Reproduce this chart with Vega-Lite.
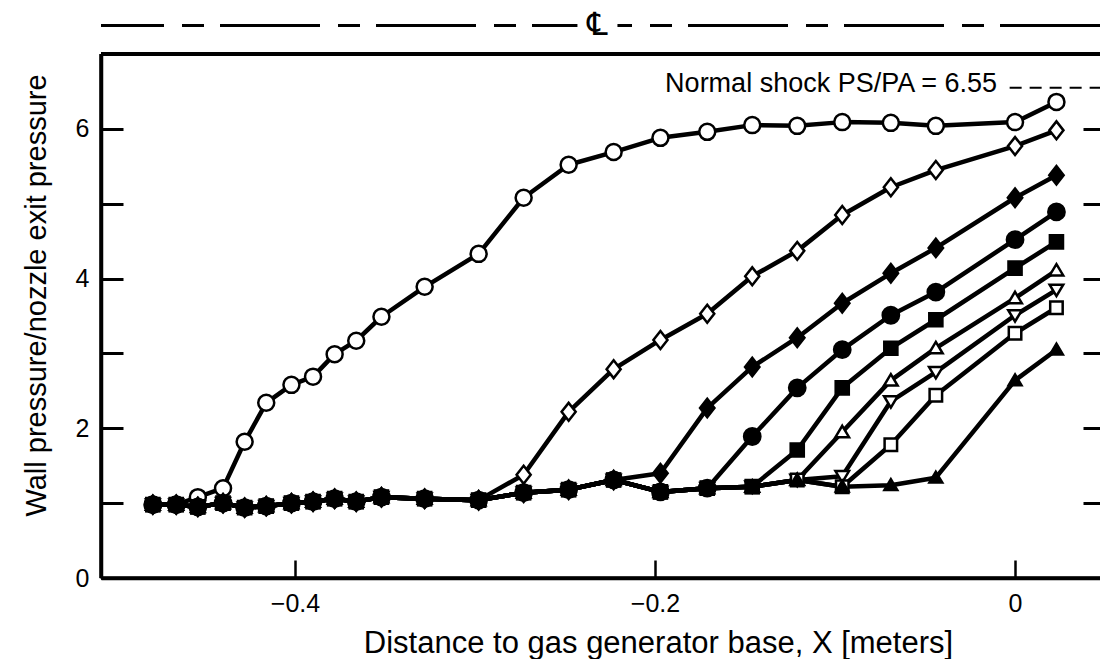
{
  "$schema": "https://vega.github.io/schema/vega-lite/v6.json",
  "width": 999,
  "height": 524,
  "autosize": {"type": "none"},
  "padding": {"left": 101, "top": 54, "right": 0, "bottom": 81},
  "background": "white",
  "config": {
    "view": {"stroke": null},
    "font": "Liberation Sans",
    "axis": {"labelFont": "Liberation Sans", "titleFont": "Liberation Sans", "labelColor": "black", "titleColor": "black", "tickColor": "black", "domainColor": "black", "titleFontWeight": "normal", "grid": false}
  },
  "datasets": {
    "obs": [
      {"s":"Run 1","x":-0.479,"y":0.98},{"s":"Run 1","x":-0.466,"y":0.98},{"s":"Run 1","x":-0.454,"y":1.08},{"s":"Run 1","x":-0.440,"y":1.20},{"s":"Run 1","x":-0.428,"y":1.82},{"s":"Run 1","x":-0.416,"y":2.34},{"s":"Run 1","x":-0.402,"y":2.58},{"s":"Run 1","x":-0.390,"y":2.69},{"s":"Run 1","x":-0.378,"y":2.99},{"s":"Run 1","x":-0.366,"y":3.17},{"s":"Run 1","x":-0.352,"y":3.49},{"s":"Run 1","x":-0.328,"y":3.89},{"s":"Run 1","x":-0.298,"y":4.33},{"s":"Run 1","x":-0.273,"y":5.08},{"s":"Run 1","x":-0.248,"y":5.52},{"s":"Run 1","x":-0.223,"y":5.69},{"s":"Run 1","x":-0.197,"y":5.88},{"s":"Run 1","x":-0.171,"y":5.96},{"s":"Run 1","x":-0.146,"y":6.05},{"s":"Run 1","x":-0.121,"y":6.04},{"s":"Run 1","x":-0.096,"y":6.09},{"s":"Run 1","x":-0.069,"y":6.08},{"s":"Run 1","x":-0.044,"y":6.04},{"s":"Run 1","x":0.0,"y":6.09},{"s":"Run 1","x":0.023,"y":6.36},

      {"s":"Run 2","x":-0.479,"y":0.98},{"s":"Run 2","x":-0.466,"y":0.98},{"s":"Run 2","x":-0.454,"y":0.95},{"s":"Run 2","x":-0.440,"y":1.00},{"s":"Run 2","x":-0.428,"y":0.94},{"s":"Run 2","x":-0.416,"y":0.96},{"s":"Run 2","x":-0.402,"y":1.00},{"s":"Run 2","x":-0.390,"y":1.02},{"s":"Run 2","x":-0.378,"y":1.06},{"s":"Run 2","x":-0.366,"y":1.02},{"s":"Run 2","x":-0.352,"y":1.08},{"s":"Run 2","x":-0.328,"y":1.06},{"s":"Run 2","x":-0.298,"y":1.04},{"s":"Run 2","x":-0.273,"y":1.38},{"s":"Run 2","x":-0.248,"y":2.22},{"s":"Run 2","x":-0.223,"y":2.79},{"s":"Run 2","x":-0.197,"y":3.18},{"s":"Run 2","x":-0.171,"y":3.53},{"s":"Run 2","x":-0.146,"y":4.03},{"s":"Run 2","x":-0.121,"y":4.37},{"s":"Run 2","x":-0.096,"y":4.85},{"s":"Run 2","x":-0.069,"y":5.22},{"s":"Run 2","x":-0.044,"y":5.45},{"s":"Run 2","x":0.0,"y":5.77},{"s":"Run 2","x":0.023,"y":5.98},

      {"s":"Run 6","x":-0.479,"y":0.98},{"s":"Run 6","x":-0.466,"y":0.98},{"s":"Run 6","x":-0.454,"y":0.95},{"s":"Run 6","x":-0.440,"y":1.00},{"s":"Run 6","x":-0.428,"y":0.94},{"s":"Run 6","x":-0.416,"y":0.96},{"s":"Run 6","x":-0.402,"y":1.00},{"s":"Run 6","x":-0.390,"y":1.02},{"s":"Run 6","x":-0.378,"y":1.06},{"s":"Run 6","x":-0.366,"y":1.02},{"s":"Run 6","x":-0.352,"y":1.08},{"s":"Run 6","x":-0.328,"y":1.06},{"s":"Run 6","x":-0.298,"y":1.04},{"s":"Run 6","x":-0.273,"y":1.14},{"s":"Run 6","x":-0.248,"y":1.18},{"s":"Run 6","x":-0.223,"y":1.31},{"s":"Run 6","x":-0.197,"y":1.15},{"s":"Run 6","x":-0.171,"y":1.20},{"s":"Run 6","x":-0.146,"y":1.22},{"s":"Run 6","x":-0.121,"y":1.31},{"s":"Run 6","x":-0.096,"y":1.95},{"s":"Run 6","x":-0.069,"y":2.64},{"s":"Run 6","x":-0.044,"y":3.07},{"s":"Run 6","x":0.0,"y":3.74},{"s":"Run 6","x":0.023,"y":4.11},

      {"s":"Run 7","x":-0.479,"y":0.98},{"s":"Run 7","x":-0.466,"y":0.98},{"s":"Run 7","x":-0.454,"y":0.95},{"s":"Run 7","x":-0.440,"y":1.00},{"s":"Run 7","x":-0.428,"y":0.94},{"s":"Run 7","x":-0.416,"y":0.96},{"s":"Run 7","x":-0.402,"y":1.00},{"s":"Run 7","x":-0.390,"y":1.02},{"s":"Run 7","x":-0.378,"y":1.06},{"s":"Run 7","x":-0.366,"y":1.02},{"s":"Run 7","x":-0.352,"y":1.08},{"s":"Run 7","x":-0.328,"y":1.06},{"s":"Run 7","x":-0.298,"y":1.04},{"s":"Run 7","x":-0.273,"y":1.14},{"s":"Run 7","x":-0.248,"y":1.18},{"s":"Run 7","x":-0.223,"y":1.31},{"s":"Run 7","x":-0.197,"y":1.15},{"s":"Run 7","x":-0.171,"y":1.20},{"s":"Run 7","x":-0.146,"y":1.22},{"s":"Run 7","x":-0.121,"y":1.31},{"s":"Run 7","x":-0.096,"y":1.36},{"s":"Run 7","x":-0.069,"y":2.36},{"s":"Run 7","x":-0.044,"y":2.75},{"s":"Run 7","x":0.0,"y":3.51},{"s":"Run 7","x":0.023,"y":3.85},

      {"s":"Run 8","x":-0.479,"y":0.98},{"s":"Run 8","x":-0.466,"y":0.98},{"s":"Run 8","x":-0.454,"y":0.95},{"s":"Run 8","x":-0.440,"y":1.00},{"s":"Run 8","x":-0.428,"y":0.94},{"s":"Run 8","x":-0.416,"y":0.96},{"s":"Run 8","x":-0.402,"y":1.00},{"s":"Run 8","x":-0.390,"y":1.02},{"s":"Run 8","x":-0.378,"y":1.06},{"s":"Run 8","x":-0.366,"y":1.02},{"s":"Run 8","x":-0.352,"y":1.08},{"s":"Run 8","x":-0.328,"y":1.06},{"s":"Run 8","x":-0.298,"y":1.04},{"s":"Run 8","x":-0.273,"y":1.14},{"s":"Run 8","x":-0.248,"y":1.18},{"s":"Run 8","x":-0.223,"y":1.31},{"s":"Run 8","x":-0.197,"y":1.15},{"s":"Run 8","x":-0.171,"y":1.20},{"s":"Run 8","x":-0.146,"y":1.22},{"s":"Run 8","x":-0.121,"y":1.31},{"s":"Run 8","x":-0.096,"y":1.22},{"s":"Run 8","x":-0.069,"y":1.78},{"s":"Run 8","x":-0.044,"y":2.44},{"s":"Run 8","x":0.0,"y":3.27},{"s":"Run 8","x":0.023,"y":3.61},

      {"s":"Run 3","x":-0.479,"y":0.98},{"s":"Run 3","x":-0.466,"y":0.98},{"s":"Run 3","x":-0.454,"y":0.95},{"s":"Run 3","x":-0.440,"y":1.00},{"s":"Run 3","x":-0.428,"y":0.94},{"s":"Run 3","x":-0.416,"y":0.96},{"s":"Run 3","x":-0.402,"y":1.00},{"s":"Run 3","x":-0.390,"y":1.02},{"s":"Run 3","x":-0.378,"y":1.06},{"s":"Run 3","x":-0.366,"y":1.02},{"s":"Run 3","x":-0.352,"y":1.08},{"s":"Run 3","x":-0.328,"y":1.06},{"s":"Run 3","x":-0.298,"y":1.04},{"s":"Run 3","x":-0.273,"y":1.14},{"s":"Run 3","x":-0.248,"y":1.18},{"s":"Run 3","x":-0.223,"y":1.31},{"s":"Run 3","x":-0.197,"y":1.40},{"s":"Run 3","x":-0.171,"y":2.27},{"s":"Run 3","x":-0.146,"y":2.82},{"s":"Run 3","x":-0.121,"y":3.21},{"s":"Run 3","x":-0.096,"y":3.67},{"s":"Run 3","x":-0.069,"y":4.07},{"s":"Run 3","x":-0.044,"y":4.41},{"s":"Run 3","x":0.0,"y":5.08},{"s":"Run 3","x":0.023,"y":5.38},

      {"s":"Run 4","x":-0.479,"y":0.98},{"s":"Run 4","x":-0.466,"y":0.98},{"s":"Run 4","x":-0.454,"y":0.95},{"s":"Run 4","x":-0.440,"y":1.00},{"s":"Run 4","x":-0.428,"y":0.94},{"s":"Run 4","x":-0.416,"y":0.96},{"s":"Run 4","x":-0.402,"y":1.00},{"s":"Run 4","x":-0.390,"y":1.02},{"s":"Run 4","x":-0.378,"y":1.06},{"s":"Run 4","x":-0.366,"y":1.02},{"s":"Run 4","x":-0.352,"y":1.08},{"s":"Run 4","x":-0.328,"y":1.06},{"s":"Run 4","x":-0.298,"y":1.04},{"s":"Run 4","x":-0.273,"y":1.14},{"s":"Run 4","x":-0.248,"y":1.18},{"s":"Run 4","x":-0.223,"y":1.31},{"s":"Run 4","x":-0.197,"y":1.15},{"s":"Run 4","x":-0.171,"y":1.20},{"s":"Run 4","x":-0.146,"y":1.89},{"s":"Run 4","x":-0.121,"y":2.54},{"s":"Run 4","x":-0.096,"y":3.05},{"s":"Run 4","x":-0.069,"y":3.51},{"s":"Run 4","x":-0.044,"y":3.82},{"s":"Run 4","x":0.0,"y":4.52},{"s":"Run 4","x":0.023,"y":4.89},

      {"s":"Run 5","x":-0.479,"y":0.98},{"s":"Run 5","x":-0.466,"y":0.98},{"s":"Run 5","x":-0.454,"y":0.95},{"s":"Run 5","x":-0.440,"y":1.00},{"s":"Run 5","x":-0.428,"y":0.94},{"s":"Run 5","x":-0.416,"y":0.96},{"s":"Run 5","x":-0.402,"y":1.00},{"s":"Run 5","x":-0.390,"y":1.02},{"s":"Run 5","x":-0.378,"y":1.06},{"s":"Run 5","x":-0.366,"y":1.02},{"s":"Run 5","x":-0.352,"y":1.08},{"s":"Run 5","x":-0.328,"y":1.06},{"s":"Run 5","x":-0.298,"y":1.04},{"s":"Run 5","x":-0.273,"y":1.14},{"s":"Run 5","x":-0.248,"y":1.18},{"s":"Run 5","x":-0.223,"y":1.31},{"s":"Run 5","x":-0.197,"y":1.15},{"s":"Run 5","x":-0.171,"y":1.20},{"s":"Run 5","x":-0.146,"y":1.22},{"s":"Run 5","x":-0.121,"y":1.71},{"s":"Run 5","x":-0.096,"y":2.54},{"s":"Run 5","x":-0.069,"y":3.07},{"s":"Run 5","x":-0.044,"y":3.45},{"s":"Run 5","x":0.0,"y":4.14},{"s":"Run 5","x":0.023,"y":4.49},

      {"s":"Run 9","x":-0.479,"y":0.98},{"s":"Run 9","x":-0.466,"y":0.98},{"s":"Run 9","x":-0.454,"y":0.95},{"s":"Run 9","x":-0.440,"y":1.00},{"s":"Run 9","x":-0.428,"y":0.94},{"s":"Run 9","x":-0.416,"y":0.96},{"s":"Run 9","x":-0.402,"y":1.00},{"s":"Run 9","x":-0.390,"y":1.02},{"s":"Run 9","x":-0.378,"y":1.06},{"s":"Run 9","x":-0.366,"y":1.02},{"s":"Run 9","x":-0.352,"y":1.08},{"s":"Run 9","x":-0.328,"y":1.06},{"s":"Run 9","x":-0.298,"y":1.04},{"s":"Run 9","x":-0.273,"y":1.14},{"s":"Run 9","x":-0.248,"y":1.18},{"s":"Run 9","x":-0.223,"y":1.31},{"s":"Run 9","x":-0.197,"y":1.15},{"s":"Run 9","x":-0.171,"y":1.20},{"s":"Run 9","x":-0.146,"y":1.22},{"s":"Run 9","x":-0.121,"y":1.31},{"s":"Run 9","x":-0.096,"y":1.22},{"s":"Run 9","x":-0.069,"y":1.24},{"s":"Run 9","x":-0.044,"y":1.34},{"s":"Run 9","x":0.0,"y":2.64},{"s":"Run 9","x":0.023,"y":3.05}
    ]
  },
  "resolve": {"axis": {"y": "independent"}},
  "layer": [
    {
      "data": {"name": "obs"},
      "mark": {"type": "line", "color": "black", "strokeWidth": 4.5, "strokeJoin": "round"},
      "encoding": {
        "x": {
          "field": "x", "type": "quantitative",
          "scale": {"domain": [-0.5078, 0.0472], "nice": false, "zero": false},
          "axis": {
            "values": [-0.4, -0.2, 0], "format": ".1~f",
            "domain": true, "ticks": true, "labels": true,
            "tickSize": -18, "tickWidth": 2.5, "domainWidth": 3.5,
            "labelPadding": 31, "labelFontSize": 25, "labelFlush": false,
            "title": "Distance to gas generator base, X [meters]",
            "titleFontSize": 31, "titleX": 557, "titlePadding": 12
          }
        },
        "y": {
          "field": "y", "type": "quantitative",
          "scale": {"domain": [0, 7], "nice": false, "zero": false},
          "axis": {
            "orient": "left",
            "values": [0, 1, 2, 3, 4, 5, 6, 7], "format": "d",
            "labelExpr": "(datum.value % 2 === 0 && datum.value < 7) ? datum.label : ''",
            "domain": true,
            "tickSize": -22, "tickWidth": 3, "domainWidth": 3.5,
            "labelPadding": 34, "labelFontSize": 25,
            "title": "Wall pressure/nozzle exit pressure",
            "titleFontSize": 29, "titlePadding": 24, "titleY": 241
          }
        },
        "detail": {"field": "s", "type": "nominal"}
      }
    },
    {
      "data": {"name": "obs"},
      "mark": {"type": "point", "filled": true, "stroke": "black", "strokeWidth": 2.5, "opacity": 1, "size": 256},
      "encoding": {
        "x": {"field": "x", "type": "quantitative"},
        "y": {
          "field": "y", "type": "quantitative",
          "axis": {"orient": "right", "values": [1, 2, 3, 4, 5, 6], "tickSize": -17, "tickWidth": 3, "labels": false, "domain": false, "title": null}
        },
        "shape": {
          "field": "s", "type": "nominal", "legend": null,
          "scale": {
            "domain": ["Run 1", "Run 2", "Run 3", "Run 4", "Run 5", "Run 6", "Run 7", "Run 8", "Run 9"],
            "range": [
              "M1,0A1,1,0,1,1,-1,0A1,1,0,1,1,1,0Z",
              "M0,-1.12L0.88,0L0,1.12L-0.88,0Z",
              "M0,-1.15L0.9,0L0,1.15L-0.9,0Z",
              "M1.02,0A1.02,1.02,0,1,1,-1.02,0A1.02,1.02,0,1,1,1.02,0Z",
              "M-0.82,-0.82L0.82,-0.82L0.82,0.82L-0.82,0.82Z",
              "M0,-0.78L0.85,0.64L-0.85,0.64Z",
              "M0,0.78L0.85,-0.64L-0.85,-0.64Z",
              "M-0.78,-0.78L0.78,-0.78L0.78,0.78L-0.78,0.78Z",
              "M0,-0.74L0.8,0.6L-0.8,0.6Z"
            ]
          }
        },
        "fill": {
          "field": "s", "type": "nominal", "legend": null,
          "scale": {
            "domain": ["Run 1", "Run 2", "Run 3", "Run 4", "Run 5", "Run 6", "Run 7", "Run 8", "Run 9"],
            "range": ["white", "white", "black", "black", "black", "white", "white", "white", "black"]
          }
        }
      }
    },
    {
      "data": {"values": [{}]},
      "mark": {"type": "rule", "color": "black", "strokeWidth": 4},
      "encoding": {"y": {"datum": 7, "type": "quantitative", "axis": null}}
    },
    {
      "data": {"values": [{}]},
      "mark": {"type": "rule", "color": "black", "strokeWidth": 3.5},
      "encoding": {"y": {"datum": 0, "type": "quantitative", "axis": null}}
    },
    {
      "data": {"values": [{}]},
      "mark": {"type": "rule", "color": "black", "strokeWidth": 3.5},
      "encoding": {"x": {"datum": -0.5078, "type": "quantitative"}}
    },
    {
      "data": {"values": [{}]},
      "mark": {"type": "rule", "color": "black", "strokeWidth": 3, "strokeDash": [100, 16, 22, 18]},
      "encoding": {"y": {"datum": 7.38, "type": "quantitative", "axis": null}}
    },
    {
      "data": {"values": [{"x": -0.232, "y": 7.38}]},
      "mark": {"type": "point", "shape": "square", "filled": true, "color": "white", "size": 1600, "opacity": 1},
      "encoding": {
        "x": {"field": "x", "type": "quantitative"},
        "y": {"field": "y", "type": "quantitative", "axis": null}
      }
    },
    {
      "data": {"values": [{"label": "℄", "x": -0.232, "y": 7.39}]},
      "mark": {"type": "text", "font": "DejaVu Sans", "fontSize": 32, "align": "center", "baseline": "middle", "color": "black"},
      "encoding": {
        "x": {"field": "x", "type": "quantitative"},
        "y": {"field": "y", "type": "quantitative", "axis": null},
        "text": {"field": "label"}
      }
    },
    {
      "data": {"values": [{"label": "Normal shock PS/PA = 6.55", "x": -0.010, "y": 6.6}]},
      "mark": {"type": "text", "font": "Liberation Sans", "fontSize": 27, "align": "right", "baseline": "middle", "color": "black"},
      "encoding": {
        "x": {"field": "x", "type": "quantitative"},
        "y": {"field": "y", "type": "quantitative", "axis": null},
        "text": {"field": "label"}
      }
    },
    {
      "data": {"values": [{"x": -0.003, "x2": 0.0472, "y": 6.55}]},
      "mark": {"type": "rule", "color": "black", "strokeWidth": 2, "strokeDash": [12, 8]},
      "encoding": {
        "x": {"field": "x", "type": "quantitative"},
        "x2": {"field": "x2"},
        "y": {"field": "y", "type": "quantitative", "axis": null}
      }
    }
  ]
}
